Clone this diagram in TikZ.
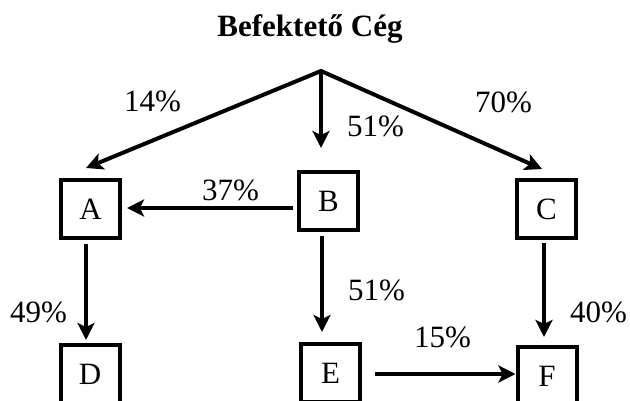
\documentclass[tikz,border=0pt]{standalone}
\usepackage{fontspec}
\setmainfont{Liberation Serif}
\usetikzlibrary{arrows.meta,calc}
\begin{document}
\begin{tikzpicture}[x=1pt,y=-1pt,
  box/.style={draw, line width=4pt, minimum width=59pt, minimum height=58pt, inner sep=0pt, font=\fontsize{31}{31}\selectfont},
  lbl/.style={font=\fontsize{31}{31}\selectfont, inner sep=0pt, anchor=base west},
  tip/.style={Stealth[length=17pt,width=17pt,inset=4pt]},
  arr/.style={line width=4pt, -{Stealth[length=17pt,width=17pt,inset=4pt]}},
]
\useasboundingbox (0,0) rectangle (630,401);
\clip (0,0) rectangle (630,401);

\node[font=\bfseries\fontsize{31}{31}\selectfont, inner sep=0pt, anchor=base] (title) at (310,37) {Befektető Cég};

\node[box] (A) at (90.5,209) {A};
\node[box] (B) at (328.5,201) {B};
\node[box] (C) at (546.5,209) {C};
\node[box] (D) at (90,374) {D};
\node[box] (E) at (330.5,373) {E};
\node[box] (F) at (547,376) {F};

\coordinate (top) at (321,71);

\draw[line width=4pt, line join=miter, {Stealth[length=17pt,width=17pt,inset=4pt]}-{Stealth[length=17pt,width=17pt,inset=4pt]}]
  ($(A.north)+(-4.5,-10)$) -- (top) -- ($(C.north)+(-4.5,-9)$);
\draw[arr] (top) -- ($(B.north)+(-7.5,-22)$);
\draw[arr] ($(B.west |- A.east)+(-4,-1)$) -- ($(A.east)+(5,-1)$);
\draw[arr] ($(B.south)+(-6.5,4)$) -- ($(B.south |- E.north)+(-6.5,-10)$);
\draw[arr] ($(A.south)+(-4.5,4)$) -- ($(A.south |- D.north)+(-4.5,-3)$);
\draw[arr] ($(C.south)+(-2.5,3)$) -- ($(C.south |- F.north)+(-2.5,-8)$);
\draw[arr] ($(E.east)+(13,1)$) -- ($(F.west |- E.east)+(0,1)$);

\node[lbl] (l14) at (124,112) {14\%};
\node[lbl] (l51a) at (347,137) {51\%};
\node[lbl] (l70) at (475,113) {70\%};
\node[lbl] (l37) at (202,201) {37\%};
\node[lbl] (l49) at (10,323) {49\%};
\node[lbl] (l51b) at (348,300) {51\%};
\node[lbl] (l15) at (414,347) {15\%};
\node[lbl] (l40) at (570,323) {40\%};
\end{tikzpicture}
\end{document}
